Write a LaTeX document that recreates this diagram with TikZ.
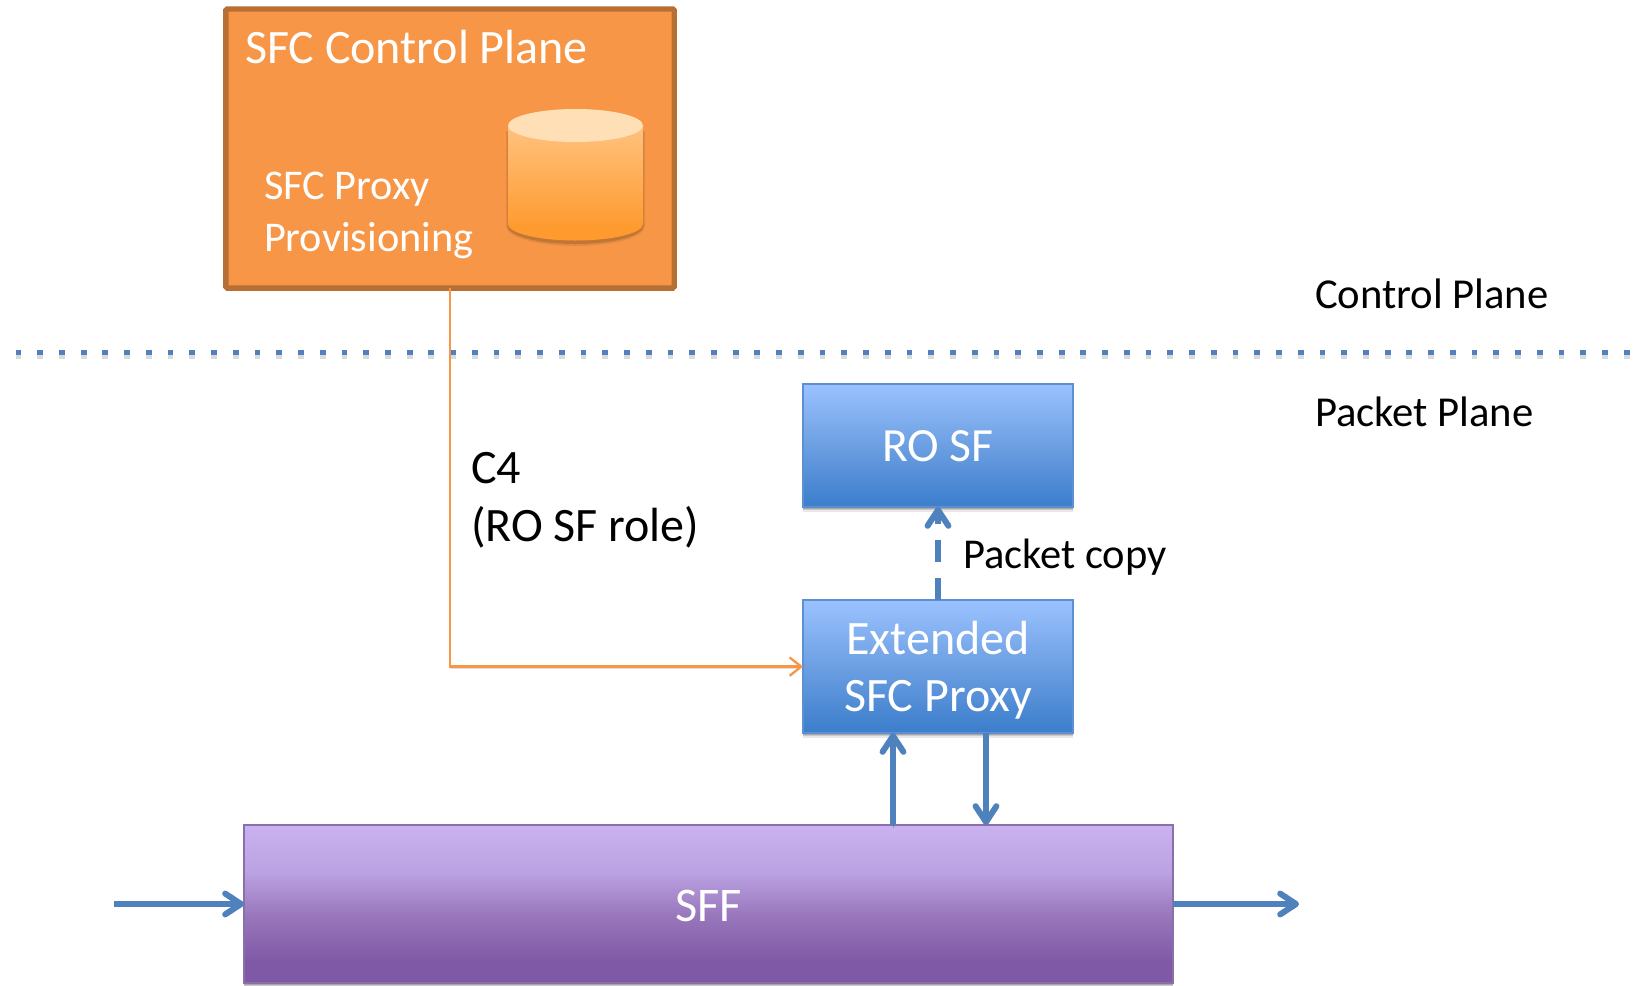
\documentclass[tikz,border=0pt]{standalone}
\usepackage{fontspec}
\setmainfont{Carlito}
\usetikzlibrary{arrows.meta}
\definecolor{blueln}{HTML}{4F81BD}
\definecolor{blueedge}{HTML}{5C90D2}
\definecolor{orangeln}{HTML}{F79646}
\definecolor{ctrlbd}{HTML}{B86F33}
\definecolor{bltop}{HTML}{9BC2FF}
\definecolor{blmid}{HTML}{6C9FE2}
\definecolor{blbot}{HTML}{3F80CD}
\definecolor{putop}{HTML}{C9B2EF}
\definecolor{pumid}{HTML}{BBA2E2}
\definecolor{pumd}{HTML}{9A78BD}
\definecolor{pubot}{HTML}{8059A6}
\definecolor{puedge}{HTML}{8A6FA8}
\definecolor{cytop}{HTML}{FFC27F}
\definecolor{cybot}{HTML}{FE9A2E}
\definecolor{cyend}{HTML}{FEDFB6}
\pgfdeclareverticalshading{blueg}{100bp}{color(0bp)=(blbot);color(27bp)=(blbot);color(50bp)=(blmid);color(75bp)=(bltop);color(100bp)=(bltop)}
\pgfdeclareverticalshading{purpleg}{100bp}{color(0bp)=(pubot);color(32bp)=(pubot);color(47bp)=(pumd);color(60bp)=(pumid);color(75bp)=(putop);color(100bp)=(putop)}
\pgfdeclareverticalshading{cylg}{100bp}{color(0bp)=(cybot);color(30bp)=(cybot);color(75bp)=(cytop);color(100bp)=(cytop)}
\newcommand{\fsz}[1]{\fontsize{#1}{#1}\selectfont}
\tikzset{
  x=0.6pt,y=-0.6pt,
  softshadow/.style={
    preaction={fill=black,fill opacity=.09,transform canvas={yshift=-2.8pt}},
    preaction={fill=black,fill opacity=.13,transform canvas={yshift=-2pt}},
    preaction={fill=black,fill opacity=.18,transform canvas={yshift=-1.2pt}}},
  bluebox/.style={rectangle,inner sep=0pt,outer sep=0pt,minimum width=162pt,softshadow,shading=blueg,draw=blueedge,line width=.8pt},
  planebox/.style={rectangle,inner sep=0pt,outer sep=0pt,softshadow,shading=purpleg,draw=puedge,line width=.8pt},
  ctrlbox/.style={rectangle,inner sep=0pt,outer sep=0pt,fill=orangeln,draw=ctrlbd,line width=3.2pt,rounded corners=0.8pt},
  lbl/.style={inner sep=0pt,outer sep=0pt,anchor=base west},
  wlbl/.style={lbl,text=white},
  clbl/.style={inner sep=0pt,outer sep=0pt,anchor=base,text=white},
  flowline/.style={draw=blueln,line width=3.6pt,-{Straight Barb[length=9.5pt,width=12.5pt,round,line width=3.6pt]}},
  flow/.style={flowline,preaction={draw=black,draw opacity=.2,transform canvas={yshift=-1.5pt}}},
  feed/.style={draw=orangeln,line width=1.3pt,-{Straight Barb[length=7pt,width=11pt,line width=1.3pt]},
     preaction={draw=black,draw opacity=.12,transform canvas={yshift=-1pt}}}
}
\begin{document}
\begin{tikzpicture}
\useasboundingbox (0,0) rectangle (1633,985);

% dotted divider
\coordinate (divl) at (15.5,352.5);
\coordinate (divr) at (1633,352.5);
\draw[black,draw opacity=.14,line width=3.5pt,dash pattern=on 3.5pt off 9.54pt] ([yshift=-2.2pt]divl) -- ([yshift=-2.2pt]divr);
\draw[blueln,line width=3.5pt,dash pattern=on 3.5pt off 9.54pt] (divl) -- (divr);

% control plane box
\node[ctrlbox,minimum width=269pt,minimum height=167.5pt] (ctrl) at (450,148.5) {};
\node[wlbl,font=\fsz{28.8}] (title) at (245,63) {SFC Control Plane};
\node[wlbl,font=\fsz{25.4}] (p1) at (264,199) {SFC Proxy};
\node[wlbl,font=\fsz{25.4}] (p2) at (264,251) {Provisioning};

% database cylinder
\fill[black,opacity=.08] (506,131) -- (506,226) arc[start angle=180,end angle=0,x radius=69.5,y radius=20] -- (645,131) -- cycle;
\fill[black,opacity=.14] (507.5,131) -- (507.5,226) arc[start angle=180,end angle=0,x radius=68,y radius=18] -- (643.5,131) -- cycle;
\shade[shading=cylg] (508,125.5) -- (508,224) arc[start angle=180,end angle=0,x radius=67.5,y radius=16.5] -- (643,125.5) -- cycle;
\fill[cyend] (575.5,125.5) ellipse[x radius=67.5,y radius=16.5];

% packet plane boxes
\node[bluebox,minimum height=73.8pt] (ro) at (938,445.5) {};
\node[clbl,font=\fsz{28.6}] (rot) at (938,461) {RO SF};
\node[bluebox,minimum height=79.8pt] (ext) at (938,666.5) {};
\node[clbl,font=\fsz{28.8}] (ext1) at (938,654) {Extended};
\node[clbl,font=\fsz{28.8}] (ext2) at (938,711) {SFC Proxy};
\node[planebox,minimum width=557.4pt,minimum height=94.8pt] (sff) at (708.5,904) {};
\node[clbl,font=\fsz{29}] (sfft) at (708.5,921.5) {SFF};

% labels
\node[lbl,font=\fsz{25.6}] (cp) at (1315,308) {Control Plane};
\node[lbl,font=\fsz{25.6}] (pp) at (1315,426) {Packet Plane};
\node[lbl,font=\fsz{28.8}] (c4) at (471,483.5) {C4};
\node[lbl,font=\fsz{28.8}] (role) at (471,541.5) {(RO SF role)};
\node[lbl,font=\fsz{25.5}] (copy) at (963,568.5) {Packet copy};

% connectors
\coordinate (inS) at (114,904);
\coordinate (outE) at (1299,904);
\coordinate (upS) at (893,825);
\coordinate (upE) at (893,733);
\coordinate (dnS) at (986,733);
\coordinate (dnE) at (986,825);
\draw[feed] (ctrl.south) |- (ext.west);
\draw[flowline,dash pattern=on 13.2pt off 9.6pt] (ext.north) -- (ro.south);
\draw[flow] (upS) -- (upE);
\draw[flow] (dnS) -- (dnE);
\draw[flow] (inS) -- (sff.west);
\draw[flow] (sff.east) -- (outE);
\end{tikzpicture}
\end{document}
